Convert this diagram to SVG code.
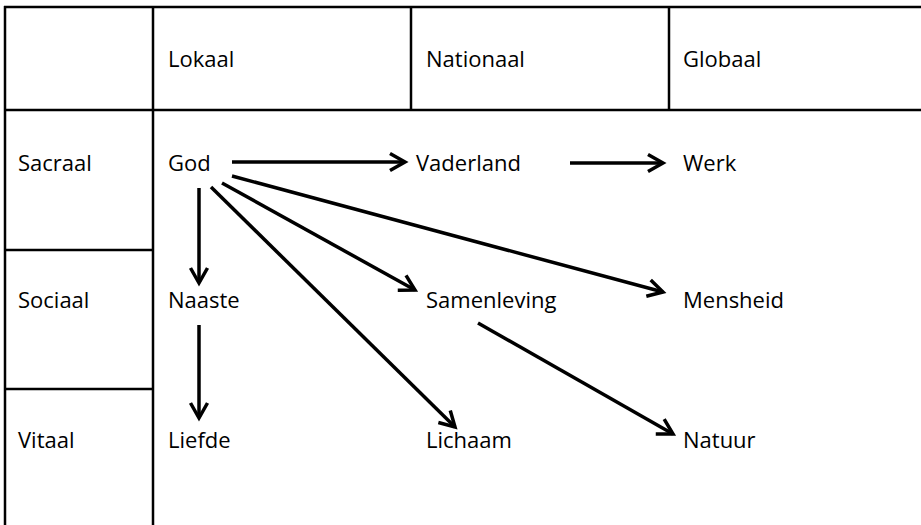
<svg xmlns="http://www.w3.org/2000/svg" width="921" height="525" viewBox="0 0 921 525">
<style>
.grid line{stroke:#000;stroke-width:2.5}
text{font-family:"Open Sans","Noto Sans","Liberation Sans",sans-serif;font-size:22px;fill:#000}
.conn line{stroke:#000;stroke-width:3.5;marker-end:url(#arr)}
</style>
<defs>
<marker id="arr" markerUnits="userSpaceOnUse" viewBox="-18 -11 22 22" refX="0" refY="0" markerWidth="22" markerHeight="22" orient="auto">
<path d="M-15,-8.5 L0,0 L-15,8.5" fill="none" stroke="#000" stroke-width="3.5"/>
</marker>
</defs>
<rect width="921" height="525" fill="#fff"/>
<g id="table" class="grid">
<line x1="4" y1="7" x2="921" y2="7"/>
<line x1="4" y1="110" x2="921" y2="110"/>
<line x1="5" y1="6" x2="5" y2="525"/>
<line x1="153" y1="6" x2="153" y2="525"/>
<line x1="411" y1="6" x2="411" y2="110"/>
<line x1="669" y1="6" x2="669" y2="110"/>
<line x1="5" y1="250" x2="153" y2="250"/>
<line x1="5" y1="389" x2="153" y2="389"/>
</g>
<g id="headers">
<text x="168" y="67">Lokaal</text>
<text x="426" y="67">Nationaal</text>
<text x="683" y="67">Globaal</text>
<text x="18" y="171">Sacraal</text>
<text x="18" y="308">Sociaal</text>
<text x="18" y="448">Vitaal</text>
</g>
<g id="god"><text x="168" y="171">God</text></g>
<g id="vaderland"><text x="416" y="171">Vaderland</text></g>
<g id="werk"><text x="683" y="171">Werk</text></g>
<g id="naaste"><text x="168" y="308">Naaste</text></g>
<g id="samenleving"><text x="426" y="308">Samenleving</text></g>
<g id="mensheid"><text x="683" y="308">Mensheid</text></g>
<g id="liefde"><text x="168" y="448">Liefde</text></g>
<g id="lichaam"><text x="426" y="448">Lichaam</text></g>
<g id="natuur"><text x="683" y="448">Natuur</text></g>
<g id="connectors" class="conn">
<line x1="232" y1="162" x2="405" y2="162"/>
<line x1="570" y1="163" x2="663" y2="163"/>
<line x1="199" y1="188" x2="199" y2="283"/>
<line x1="222" y1="183" x2="415" y2="290"/>
<line x1="232" y1="176" x2="663" y2="292"/>
<line x1="211" y1="187" x2="455" y2="427"/>
<line x1="199" y1="325" x2="199" y2="418"/>
<line x1="478" y1="323" x2="673" y2="434"/>
</g>
</svg>
